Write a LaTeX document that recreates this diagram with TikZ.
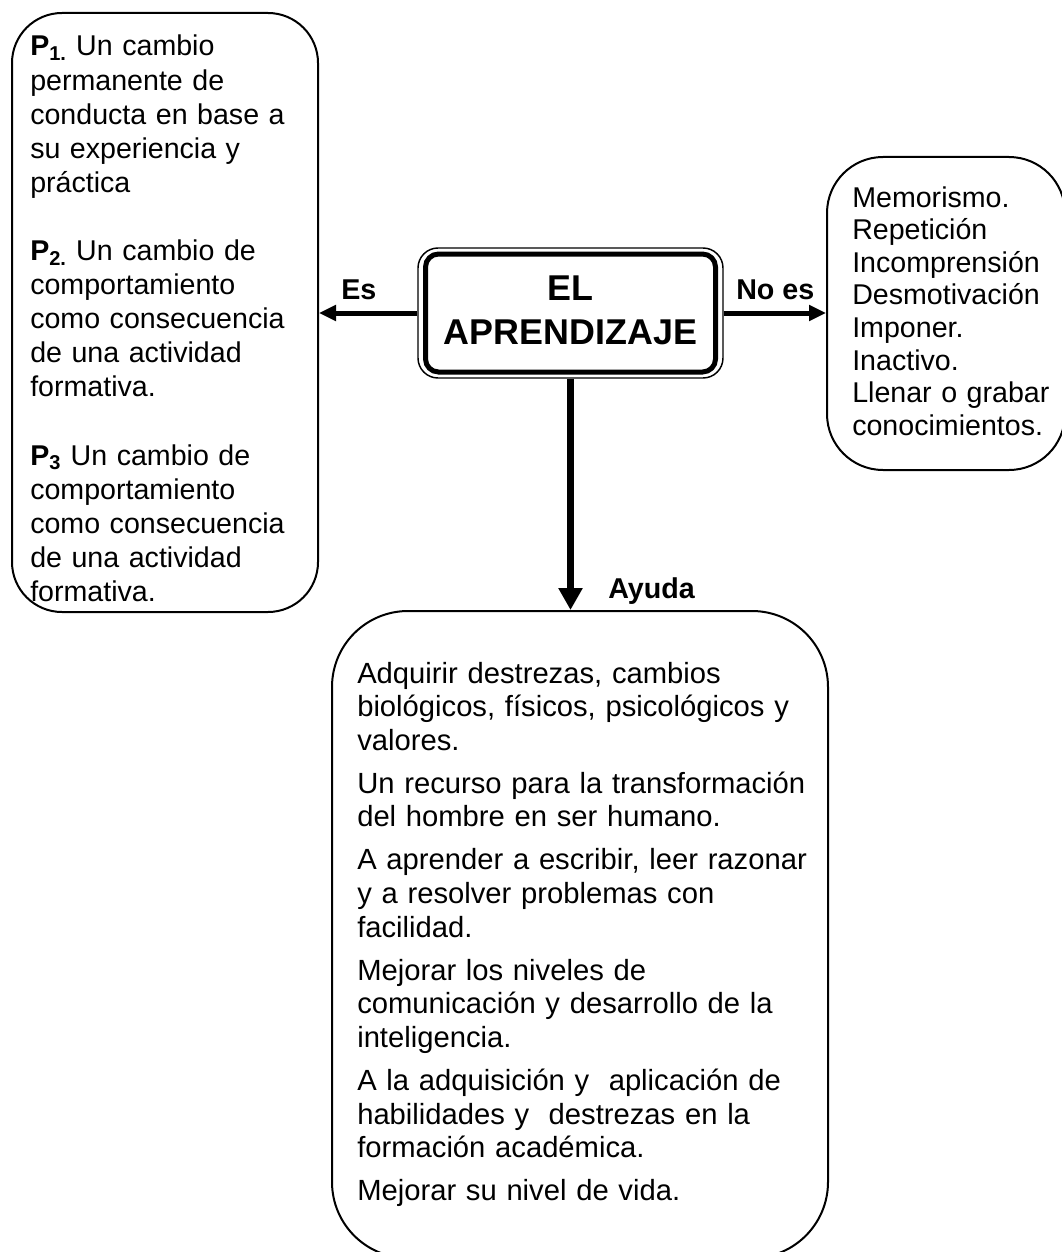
\documentclass[tikz,border=0pt]{standalone}
\usepackage{fontspec}
\setmainfont{Liberation Sans}
\usetikzlibrary{arrows.meta}
\begin{document}
\begin{tikzpicture}[x=0.75pt,y=-0.75pt,
  box/.style={draw, line width=1.5pt, inner sep=0pt},
  bodytext/.style={inner sep=0pt, anchor=base west, align=left},
  lbl/.style={inner sep=0pt, anchor=base west, font=\bfseries\fontsize{21.5}{25}\selectfont},
  conn/.style={line width=3.75pt, -{Triangle[length=12.75pt,width=11.5pt]}},
  mainconn/.style={line width=5.25pt, -{Triangle[length=16.5pt,width=17.25pt]}}]
\useasboundingbox (0,0) rectangle (1062,1252);
\fill[white] (0,0) rectangle (1062,1252);
% boxes
\node[box, minimum width=229.5pt, minimum height=449.25pt, rounded corners=37.5pt] (esbox) at (165,312.5) {};
\node[box, minimum width=178.5pt, minimum height=234.75pt, rounded corners=42pt] (noesbox) at (946,313.5) {};
\node[box, minimum width=372pt, minimum height=485.25pt, rounded corners=57pt] (ayudabox) at (580,934.5) {};
% central node
\node[draw, line width=1.1pt, rounded corners=15pt, minimum width=228.75pt, minimum height=97.5pt, inner sep=0pt] (core) at (570.5,313) {};
\node[draw, line width=3.75pt, rounded corners=9.75pt, minimum width=217.5pt, minimum height=88.5pt, inner sep=0pt] (coreframe) at (core.center) {};
\node[inner sep=0pt, anchor=base, text width=220pt, align=center, font=\bfseries\fontsize{26.9}{33.5}\selectfont] (title) at (570.5,300) {EL\\APRENDIZAJE};
% connectors
\draw[conn] (core.west) -- (core.west -| esbox.east);
\draw[conn] (core.east) -- (core.east -| noesbox.west);
\draw[mainconn] (core.south) -- (core.south |- ayudabox.north);
% labels
\node[lbl] (es) at (341,299) {Es};
\node[lbl] (noes) at (736,299) {No es};
\node[lbl] (ayuda) at (608,598) {Ayuda};
% texts
\node[bodytext, text width=220pt, font=\fontsize{21.45}{25.575}\selectfont] (estext) at (30,56) {%
\textbf{P}\textsubscript{\textbf{1.}} Un cambio\\
permanente de\\
conducta en base a\\
su experiencia y\\
práctica\\[25.575pt]
\textbf{P}\textsubscript{\textbf{2.}} Un cambio de\\
comportamiento\\
como consecuencia\\
de una actividad\\
formativa.\\[25.575pt]
\textbf{P}\textsubscript{\textbf{3}} Un cambio de\\
comportamiento\\
como consecuencia\\
de una actividad\\
formativa.};
\node[bodytext, text width=160pt, font=\fontsize{21.45}{24.45}\selectfont] (noestext) at (852,207) {%
Memorismo.\\
Repetición\\
Incomprensión\\
Desmotivación\\
Imponer.\\
Inactivo.\\
Llenar o grabar\\
conocimientos.};
\node[bodytext, text width=340pt, font=\fontsize{21.9}{25.2}\selectfont] (ayudatext) at (357,683) {%
Adquirir destrezas, cambios\\
biológicos, físicos, psicológicos y\\
valores.\\[7.1pt]
Un recurso para la transformación\\
del hombre en ser humano.\\[7.1pt]
A aprender a escribir, leer razonar\\
y a resolver problemas con\\
facilidad.\\[7.1pt]
Mejorar los niveles de\\
comunicación y desarrollo de la\\
inteligencia.\\[7.1pt]
A la adquisición y\ \ aplicación de\\
habilidades y\ \ destrezas en la\\
formación académica.\\[7.1pt]
Mejorar su nivel de vida.};
\end{tikzpicture}
\end{document}
